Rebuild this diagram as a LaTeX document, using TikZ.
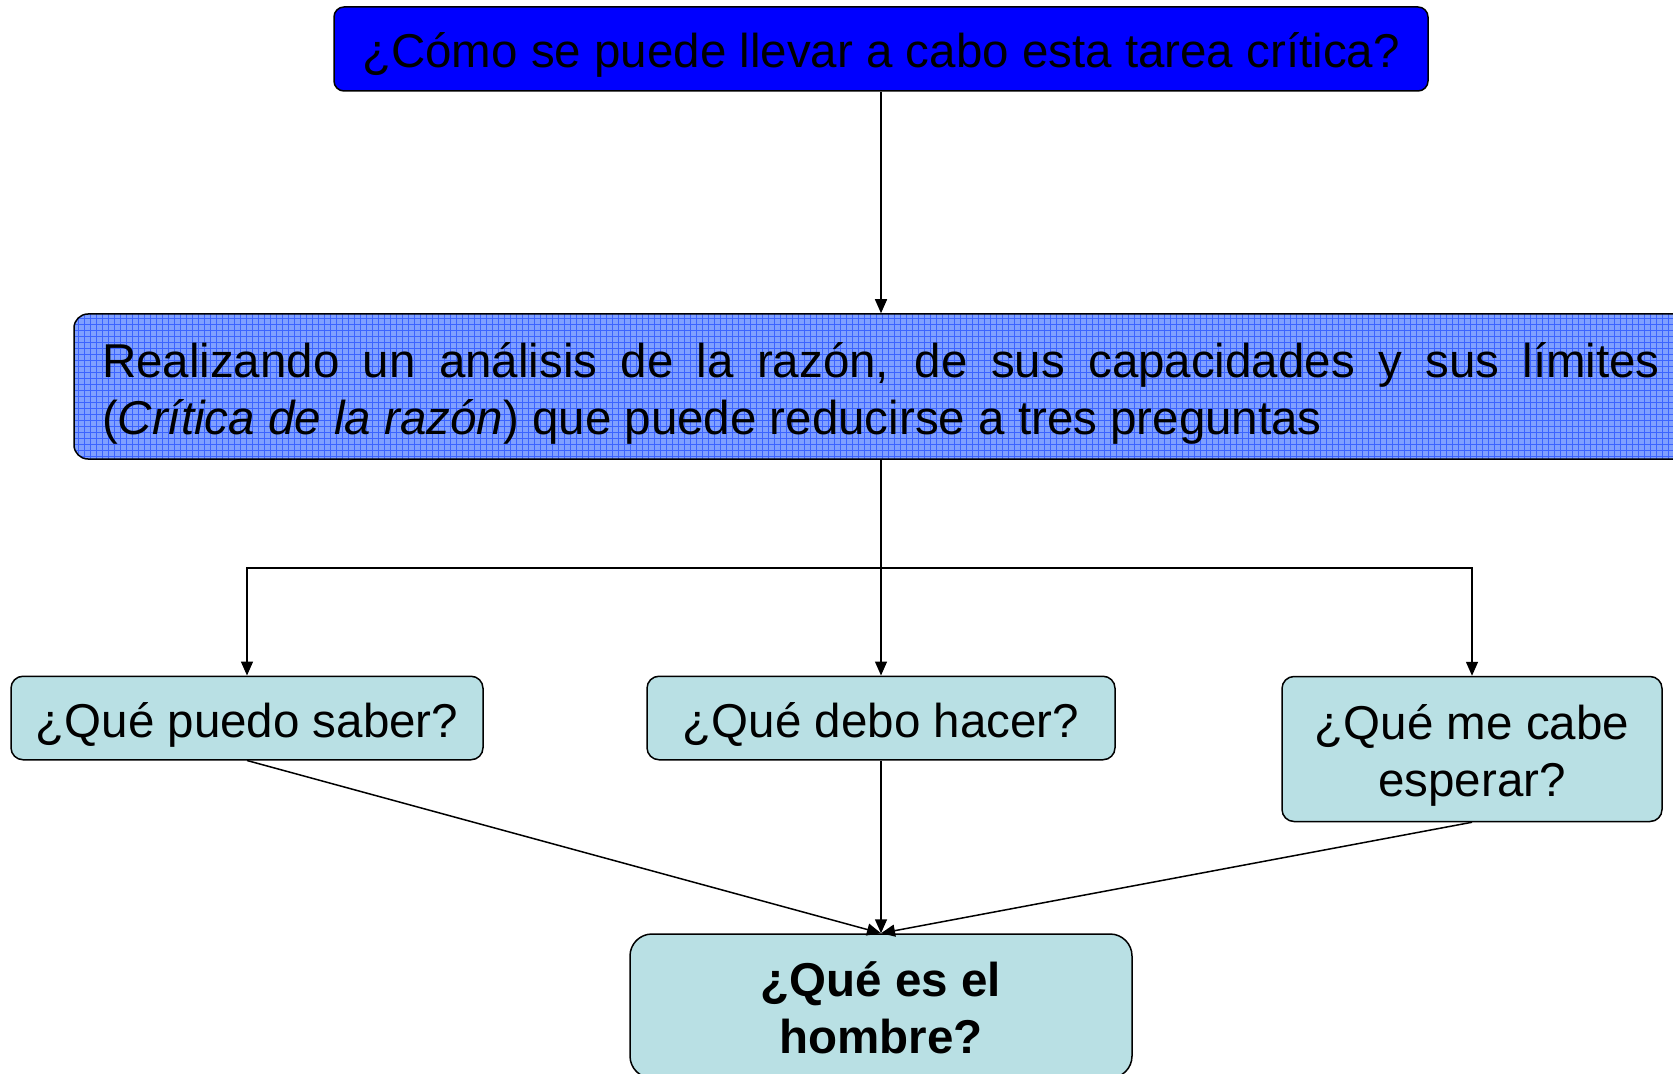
\documentclass[tikz,border=0pt]{standalone}
\usepackage{fontspec}
\setmainfont{Liberation Sans}
\usetikzlibrary{arrows.meta,patterns}
\definecolor{topblue}{RGB}{0,0,255}
\definecolor{gridbase}{RGB}{128,160,255}
\definecolor{gridline}{RGB}{60,100,255}
\definecolor{qfill}{RGB}{185,224,228}
\newcommand\diagfont{\fontsize{23.75pt}{28.5pt}\selectfont}
\newcommand\dstrut{\rule{0pt}{24pt}}
\begin{document}
\begin{tikzpicture}[x=0.5pt,y=-0.5pt,
  font=\diagfont,
  box/.style={draw=black, line width=0.75pt, rounded corners=6pt, inner sep=0pt, align=center},
  qbox/.style={box, fill=qfill},
  arr/.style={-{Triangle[length=7pt,width=6pt]}, line width=0.75pt}]
\useasboundingbox (0,0) rectangle (1673,1074);
\clip (0,0) rectangle (1673,1074);

\node[box, fill=topblue, rounded corners=5pt, minimum width=547pt, minimum height=42pt] (top) at (881,49)
  {\rule{0pt}{23pt}¿Cómo se puede llevar a cabo esta tarea crítica?};

\node[box, preaction={fill=gridbase}, pattern=grid, pattern color=gridline, rounded corners=7pt,
  text width=779pt, inner xsep=14pt, minimum height=72.5pt, align=justify] (razon) at (881,386.5)
  {\dstrut Realizando un análisis de la razón, de sus capacidades y sus límites\linebreak
   (\textit{Crítica de la razón}) que puede reducirse a tres preguntas};

\node[qbox, minimum width=236pt, minimum height=41.75pt] (know) at (247,718) {\dstrut¿Qué puedo saber?};
\node[qbox, minimum width=234pt, minimum height=41.75pt] (do) at (881,718) {\dstrut¿Qué debo hacer?};
\node[qbox, minimum width=190pt, minimum height=72.5pt] (hope) at (1472,749) {\dstrut¿Qué me cabe\\esperar?};
\node[qbox, rounded corners=11pt, minimum width=251pt, minimum height=72pt, font=\diagfont\bfseries] (man) at (881,1006)
  {\rule{0pt}{19.5pt}¿Qué es el\\hombre?};

\coordinate (split) at (881,568);

\draw[arr] (top.south) -- (razon.north);
\draw[arr] (razon.south) -- (do.north);
\draw[arr] (split) -| (know.north);
\draw[arr] (split) -| (hope.north);
\draw[arr] (know.south) -- (man.north);
\draw[arr] (do.south) -- (man.north);
\draw[arr] (hope.south) -- (man.north);
\end{tikzpicture}
\end{document}
